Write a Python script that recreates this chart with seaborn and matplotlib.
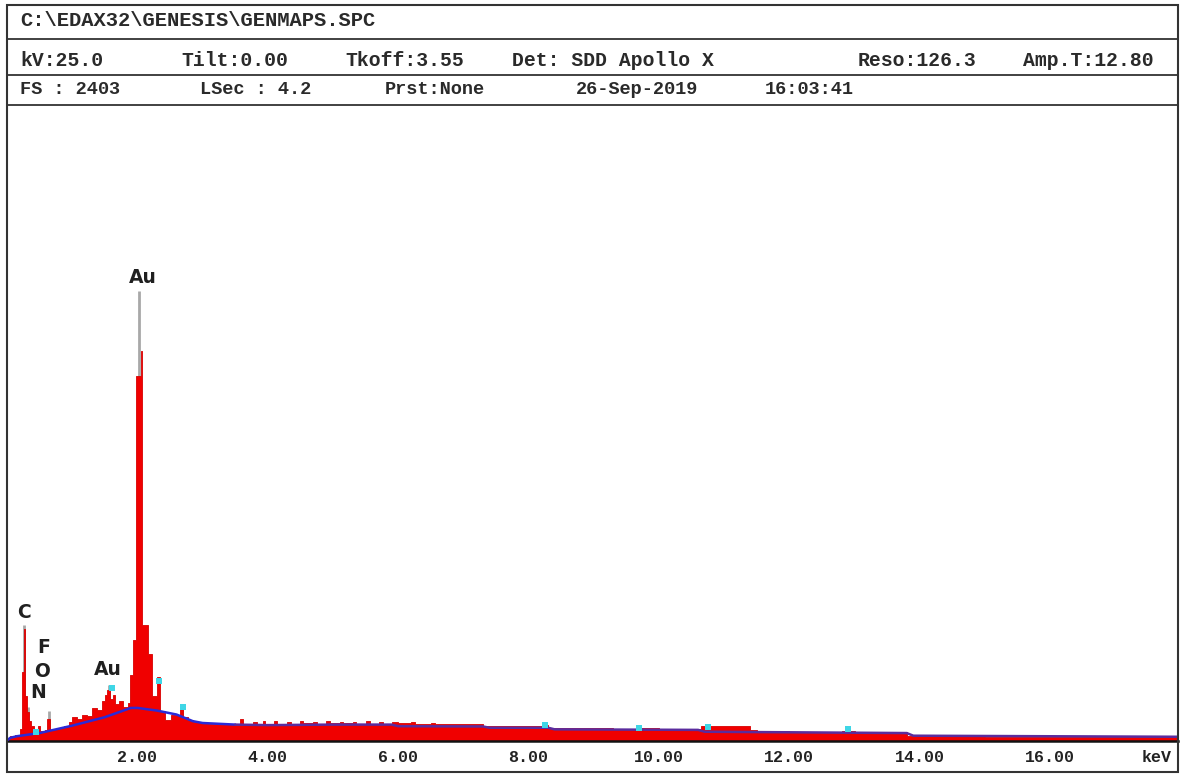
import numpy as np
import pandas as pd
import matplotlib
matplotlib.use("Agg")
import matplotlib.pyplot as plt
from matplotlib.patches import Rectangle
from matplotlib.lines import Line2D
import seaborn as sns

# ---------------- spectrum data ----------------
# Step spectrum: channel edges (keV) and counts in each channel
spec_edges_kev = [
    0.00, 0.05, 0.12, 0.20, 0.235, 0.255, 0.28, 0.30, 0.33, 0.37, 0.42, 0.47,
    0.50, 0.58, 0.62, 0.66, 0.72, 0.80, 0.88, 0.95, 1.00, 1.08, 1.15, 1.22,
    1.30, 1.38, 1.45, 1.50, 1.54, 1.58, 1.62, 1.66, 1.72, 1.78, 1.85, 1.89,
    1.93, 1.98, 2.055, 2.07, 2.16, 2.22, 2.30, 2.34,
    2.43, 2.52, 2.62, 2.65, 2.70, 2.78, 2.85, 2.95, 3.10, 3.30, 3.50, 3.58,
    3.62, 3.78, 3.84, 3.92, 3.96, 4.10, 4.14, 4.30, 4.36, 4.50, 4.54, 4.70,
    4.76, 4.90, 4.95, 5.10, 5.16, 5.30, 5.36, 5.50, 5.56, 5.70, 5.76, 5.90,
    6.00, 6.20, 6.26, 6.50, 6.56, 6.80, 7.00, 7.30, 7.60, 7.90, 8.20, 8.30,
    8.80, 9.30, 9.70, 10.00, 10.65, 11.40, 11.50, 12.00, 12.80, 13.00, 13.80,
    15.00, 16.00, 17.96,
]
spec_counts = [
    6, 18, 22, 45, 260, 424, 170, 110, 75, 55, 40, 58,
    36, 42, 85, 40, 44, 48, 55, 70, 90, 82, 100, 96,
    125, 118, 150, 175, 193, 160, 175, 140, 150, 130, 145, 250,
    380, 1380, 1472, 440, 330, 170, 240, 112,
    78, 100, 95, 135, 90, 80, 72, 68, 66, 63, 62, 84,
    64, 72, 64, 76, 64, 74, 65, 72, 66, 75, 67, 72,
    66, 74, 67, 73, 67, 72, 66, 74, 66, 72, 65, 72,
    68, 70, 66, 68, 64, 66, 63, 58, 56, 55, 62, 50,
    49, 47, 48, 45, 57, 40, 36, 35, 38, 33, 18,
    16, 15,
]

# Fitted background curve (low-energy part, then high-energy part)
bg_kev = [0.00, 0.05, 0.15, 0.50, 1.00, 1.50, 1.90, 2.00, 2.30, 2.60, 2.85,
          3.00, 3.50, 4.00, 5.00, 5.90, 6.00, 7.30, 7.40, 8.30, 8.40, 10.60,
          10.70, 13.80, 13.90, 17.96]
bg_counts = [2, 12, 18, 30, 58, 90, 125, 125, 115, 100, 75,
             68, 62, 60, 62, 62, 56, 55, 50, 50, 44, 42,
             35, 30, 20, 16]
bg_split_kev = 3.5

# Overlay (grey) peak lines
grey_kev = [0.262, 0.32, 0.64, 1.56, 2.02, 2.68]
grey_counts = [440, 130, 115, 212, 1699, 130]

# Overlay (cyan) points
cyan_kev = [0.45, 1.61, 2.33, 2.70, 8.25, 9.70, 10.75, 12.90]
cyan_counts = [35, 200, 225, 129, 62, 48, 52, 45]

# Element labels
elem_labels = ["C", "F", "O", "N", "Au", "Au"]
elem_kev = [0.26, 0.57, 0.54, 0.48, 1.55, 2.09]
elem_counts = [484, 352, 261, 185, 269, 1752]

# Header information
title_text = "C:\\EDAX32\\GENESIS\\GENMAPS.SPC"
row2_texts = ["kV:25.0", "Tilt:0.00", "Tkoff:3.55", "Det: SDD Apollo X",
              "Reso:126.3", "Amp.T:12.80"]
row2_x = [20, 181, 345, 512, 858, 1023]
row3_texts = ["FS : 2403", "LSec : 4.2", "Prst:None", "26-Sep-2019", "16:03:41"]
row3_x = [20, 200, 385, 576, 765]

tick_kev = [2, 4, 6, 8, 10, 12, 14, 16]
tick_labels = ["2.00", "4.00", "6.00", "8.00", "10.00", "12.00", "14.00", "16.00"]
full_scale = 2403
x_max = 17.96

# ---------------- figure ----------------
sns.set_style("white")
plt.rcParams["font.family"] = ["Liberation Mono", "DejaVu Sans Mono"]

W, H = 1180, 776
fig = plt.figure(figsize=(W / 100, H / 100), dpi=100)


def fx(px):
    return px / W


def fy(py):
    return 1 - py / H


ax = fig.add_axes([fx(7), fy(741), fx(1171), 636 / H])

# grey overlay peaks (behind the red spectrum, visible only above it)
for e, c in zip(grey_kev, grey_counts):
    ax.plot([e, e], [0, c], color="#a8a8a8", lw=2.0, zorder=1,
            solid_capstyle="butt")

edges = list(spec_edges_kev)
centers = [(a + b) / 2 for a, b in zip(edges[:-1], edges[1:])]
spec_df = pd.DataFrame({"kev": centers, "counts": spec_counts})
sns.histplot(data=spec_df, x="kev", weights="counts", bins=edges,
             element="step", fill=True, color="#f00000", alpha=1.0,
             edgecolor="#d80000", linewidth=0.6, ax=ax, zorder=2)

# background fit line
bg_df = pd.DataFrame({"kev": bg_kev, "counts": bg_counts})
lo = bg_df[bg_df["kev"] <= bg_split_kev]
hi = bg_df[bg_df["kev"] >= bg_split_kev]
sns.lineplot(data=lo, x="kev", y="counts", color="#2a2ad6", lw=1.8,
             ax=ax, zorder=4, estimator=None, sort=False)
sns.lineplot(data=hi, x="kev", y="counts", color="#5a2c9e", lw=1.8,
             ax=ax, zorder=4, estimator=None, sort=False)

# cyan overlay points
cy_df = pd.DataFrame({"kev": cyan_kev, "counts": cyan_counts})
sns.scatterplot(data=cy_df, x="kev", y="counts", color="#3fd6e6", marker="s",
                s=14, linewidth=0, ax=ax, zorder=5)

for lab, e, c in zip(elem_labels, elem_kev, elem_counts):
    ax.text(e, c, lab, ha="center", va="center", fontsize=13.5,
            fontweight="bold", family="DejaVu Sans", color="#202020", zorder=6)

ax.set_xlim(0, x_max)
ax.set_ylim(0, full_scale)
ax.set_xticks(tick_kev)
ax.set_xticklabels(tick_labels)
ax.set_yticks([])
ax.set_xlabel("")
ax.set_ylabel("")
ax.tick_params(axis="x", direction="inout", length=7, width=1.2,
               labelsize=12, pad=3, colors="#222222")
for lbl in ax.get_xticklabels():
    lbl.set_fontweight("bold")
for s in ["top", "left", "right"]:
    ax.spines[s].set_visible(False)
ax.spines["bottom"].set_linewidth(1.8)
ax.spines["bottom"].set_color("#111111")
ax.patch.set_alpha(0)

fig.text(fx(1157), fy(758), "keV", ha="center", va="center", fontsize=12,
         fontweight="bold", color="#222222")

# outer frame and header rules
fig.patches.append(Rectangle((fx(7), fy(772)), fx(1171), (772 - 5) / H,
                             transform=fig.transFigure, fill=False,
                             edgecolor="#333333", lw=1.5))
for yy in [39, 75, 105]:
    fig.lines.append(Line2D([fx(7), fx(1178)], [fy(yy), fy(yy)],
                            transform=fig.transFigure, color="#333333", lw=1.3))

fig.text(fx(20), fy(21), title_text, ha="left", va="center", fontsize=14.8,
         fontweight="bold", color="#2a2a2a")
for t, x in zip(row2_texts, row2_x):
    fig.text(fx(x), fy(60), t, ha="left", va="center", fontsize=14.2,
             fontweight="bold", color="#2a2a2a")
for t, x in zip(row3_texts, row3_x):
    fig.text(fx(x), fy(90), t, ha="left", va="center", fontsize=13.4,
             fontweight="bold", color="#2a2a2a")

fig.savefig("out.png", dpi=100)
